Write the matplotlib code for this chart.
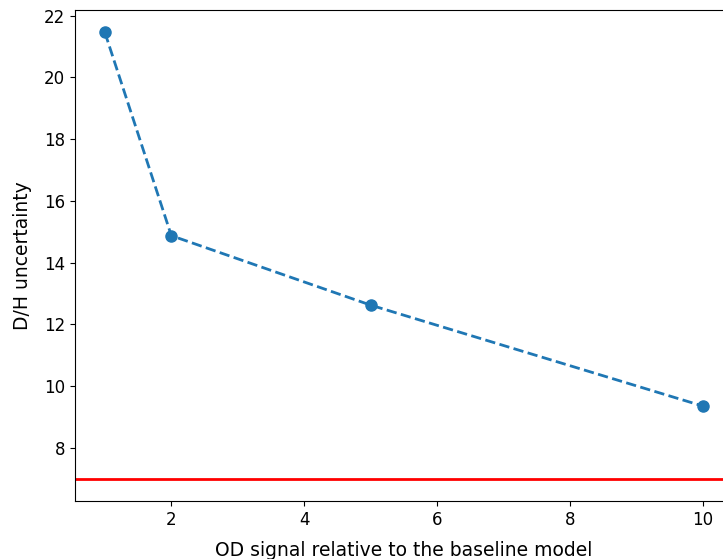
import matplotlib
matplotlib.use('Agg')
import matplotlib.pyplot as plt

# OD signal strength relative to the baseline model and the resulting D/H uncertainty
od_signal = [1, 2, 5, 10]
dh_uncertainty = [21.45, 14.87, 12.62, 9.35]
target_level = 7


def dh_vs_signal(save_name='out.png'):

    fig = plt.figure(figsize=(7.23, 5.59), dpi=100)
    ax = fig.add_axes([0.1037, 0.1038, 0.910, 0.878])

    ax.plot(od_signal, dh_uncertainty, 'o--', color='tab:blue', lw=2, ms=8)
    ax.axhline(target_level, color='red', lw=2)

    ax.set_xlabel('OD signal relative to the baseline model', fontsize=13.5,
                  labelpad=9)
    ax.set_ylabel('D/H uncertainty', fontsize=13.5, labelpad=9)
    ax.tick_params(axis='both', labelsize=12)

    plt.savefig(save_name, dpi=100)


if __name__ == '__main__':
    dh_vs_signal()
